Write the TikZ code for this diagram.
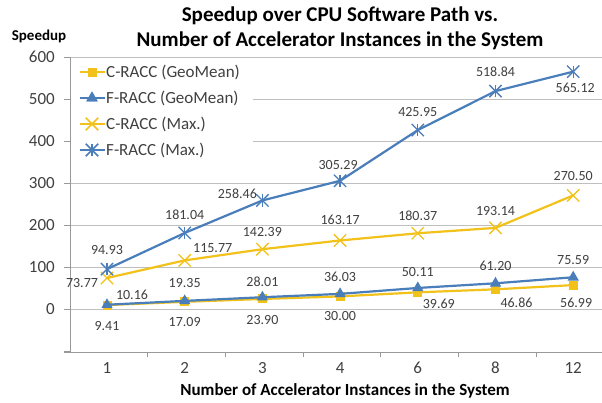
\documentclass[tikz,border=0pt]{standalone}
\usepackage{fontspec}
\setmainfont{Carlito}
\usetikzlibrary{shapes.geometric, shapes.misc}

\definecolor{cgold}{HTML}{F2C21A}
\definecolor{fblue}{HTML}{4A7EBB}
\definecolor{gridgray}{HTML}{BFBFBF}
\definecolor{labgray}{HTML}{404040}

\begin{document}
\begin{tikzpicture}[
    x=1pt, y=-1pt,
    gridline/.style={draw=gridgray, line width=0.9pt},
    axisline/.style={draw=gridgray!80!black, line width=0.9pt},
    ticklab/.style={text=labgray, font=\fontsize{17}{17}\selectfont, inner sep=0pt},
    datalab/.style={text=labgray, font=\fontsize{14}{14}\selectfont, inner sep=0pt},
    legtext/.style={text=labgray, font=\fontsize{17}{17}\selectfont, inner sep=0pt, anchor=west},
    series/.style={line width=2.2pt, line join=round},
    sqmark/.style={rectangle, fill=cgold, minimum size=9pt, inner sep=0pt},
    trimark/.style={regular polygon, regular polygon sides=3, fill=fblue, minimum size=13pt, inner sep=0pt},
    xmark/.style={cross out, draw=cgold, line width=1.3pt, minimum size=11pt, inner sep=0pt},
    astmark/.style={cross out, draw=fblue, line width=1.3pt, minimum size=11pt, inner sep=0pt,
        append after command={(\tikzlastnode.north) edge[draw=fblue, line width=1.3pt] (\tikzlastnode.south)}}
]
\useasboundingbox[fill=white] (0,0) rectangle (602,402);

% Title and axis titles
\node[font=\bfseries\fontsize{21}{25}\selectfont, align=center] (title) at (340,28)
    {Speedup over CPU Software Path vs.\\Number of Accelerator Instances in the System};
\node[font=\bfseries\fontsize{15}{15}\selectfont] (ytitle) at (39,36) {Speedup};
\node[font=\bfseries\fontsize{17}{17}\selectfont] (xtitle) at (345,391) {Number of Accelerator Instances in the System};

% Grid and y axis
\foreach \v in {0,100,...,600} {
    \coordinate (gl\v) at (70,309-0.42*\v);
    \draw[gridline] (gl\v) -- (602,309-0.42*\v);
    \node[ticklab, anchor=east] (ylab\v) at (55,309-0.42*\v) {\v};
}
\foreach \v in {-100,0,100,...,600}
    \draw[axisline] (64,309-0.42*\v) -- (70,309-0.42*\v);
\coordinate (ytop) at (70,57);
\coordinate (ybot) at (70,352);
\draw[axisline] (ytop) -- (ybot);

% x axis
\coordinate (xleft) at (64,352);
\coordinate (xright) at (602,352);
\draw[axisline] (xleft) -- (xright);
\foreach \k in {1,...,7}
    \draw[axisline] (70+77.7*\k,352) -- (70+77.7*\k,357);
\foreach \n [count=\i from 0] in {1,2,3,4,6,8,12}
    \node[ticklab] (xlab\i) at (107+77.7*\i,368) {\n};

% Legend
\node[fill=white, inner sep=0pt, minimum width=182pt, minimum height=104pt, anchor=north west] (legendbox) at (71,59) {};
\node[sqmark] (legcg) at (92,72) {};
\node[trimark] (legfg) at (92,98) {};
\node[xmark] (legcm) at (92,124) {};
\node[astmark] (legfm) at (92,150) {};
\draw[series, draw=cgold] ([xshift=-12pt]legcg.center) -- ([xshift=13pt]legcg.center);
\draw[series, draw=fblue] ([xshift=-12pt]legfg.center) -- ([xshift=13pt]legfg.center);
\draw[series, draw=cgold] ([xshift=-12pt]legcm.center) -- ([xshift=13pt]legcm.center);
\draw[series, draw=fblue] ([xshift=-12pt]legfm.center) -- ([xshift=13pt]legfm.center);
\node[sqmark] at (legcg) {};
\node[trimark] at (legfg) {};
\node[xmark] at (legcm) {};
\node[astmark] at (legfm) {};
\node[legtext] (legcgt) at (106,72) {C-RACC (GeoMean)};
\node[legtext] (legfgt) at (106,98) {F-RACC (GeoMean)};
\node[legtext] (legcmt) at (106,124) {C-RACC (Max.)};
\node[legtext] (legfmt) at (106,150) {F-RACC (Max.)};

% Data series
\begin{scope}[shift={(107,309)}, x=77.7pt, y=0.42pt]
    % C-RACC (GeoMean)
    \foreach \v [count=\i from 0] in {9.41,17.09,23.90,30.00,39.69,46.86,56.99}
        \coordinate (cg\i) at (\i,\v);
    \draw[series, draw=cgold] (cg0) foreach \i in {1,...,6} {-- (cg\i)};
    \foreach \i in {0,...,6}
        \node[sqmark] (cgm\i) at (cg\i) {};

    % F-RACC (GeoMean)
    \foreach \v [count=\i from 0] in {10.16,19.35,28.01,36.03,50.11,61.20,75.59}
        \coordinate (fg\i) at (\i,\v);
    \draw[series, draw=fblue] (fg0) foreach \i in {1,...,6} {-- (fg\i)};
    \foreach \i in {0,...,6}
        \node[trimark] (fgm\i) at (fg\i) {};

    % C-RACC (Max.)
    \foreach \v [count=\i from 0] in {73.77,115.77,142.39,163.17,180.37,193.14,270.50}
        \coordinate (cm\i) at (\i,\v);
    \draw[series, draw=cgold] (cm0) foreach \i in {1,...,6} {-- (cm\i)};
    \foreach \i in {0,...,6}
        \node[xmark] (cmm\i) at (cm\i) {};

    % F-RACC (Max.)
    \foreach \v [count=\i from 0] in {94.93,181.04,258.46,305.29,425.95,518.84,565.12}
        \coordinate (fm\i) at (\i,\v);
    \draw[series, draw=fblue] (fm0) foreach \i in {1,...,6} {-- (fm\i)};
    \foreach \i in {0,...,6}
        \node[astmark] (fmm\i) at (fm\i) {};
\end{scope}

% Data labels
\foreach \v/\dx/\dy [count=\i from 0] in {9.41/0/-21, 17.09/0/-20, 23.90/0/-21, 30.00/0/-20, 39.69/21/-11, 46.86/21/-13, 56.99/3/-18}
    \node[datalab, xshift=\dx pt, yshift=\dy pt] (cgl\i) at (cg\i) {\v};
\foreach \v/\dx/\dy [count=\i from 0] in {10.16/25/10, 19.35/0/18, 28.01/0/15, 36.03/0/17, 50.11/0/16, 61.20/0/17, 75.59/0/17}
    \node[datalab, xshift=\dx pt, yshift=\dy pt] (fgl\i) at (fg\i) {\v};
\foreach \v/\dx/\dy [count=\i from 0] in {73.77/-25/-5, 115.77/28/12, 142.39/0/17, 163.17/0/21, 180.37/0/17, 193.14/0/17, 270.50/0/19}
    \node[datalab, xshift=\dx pt, yshift=\dy pt] (cml\i) at (cm\i) {\v};
\foreach \v/\dx/\dy [count=\i from 0] in {94.93/0/19, 181.04/0/18, 258.46/-25/7, 305.29/-2/16, 425.95/0/18, 518.84/0/19, 565.12/2/-16}
    \node[datalab, xshift=\dx pt, yshift=\dy pt] (fml\i) at (fm\i) {\v};

\end{tikzpicture}
\end{document}
